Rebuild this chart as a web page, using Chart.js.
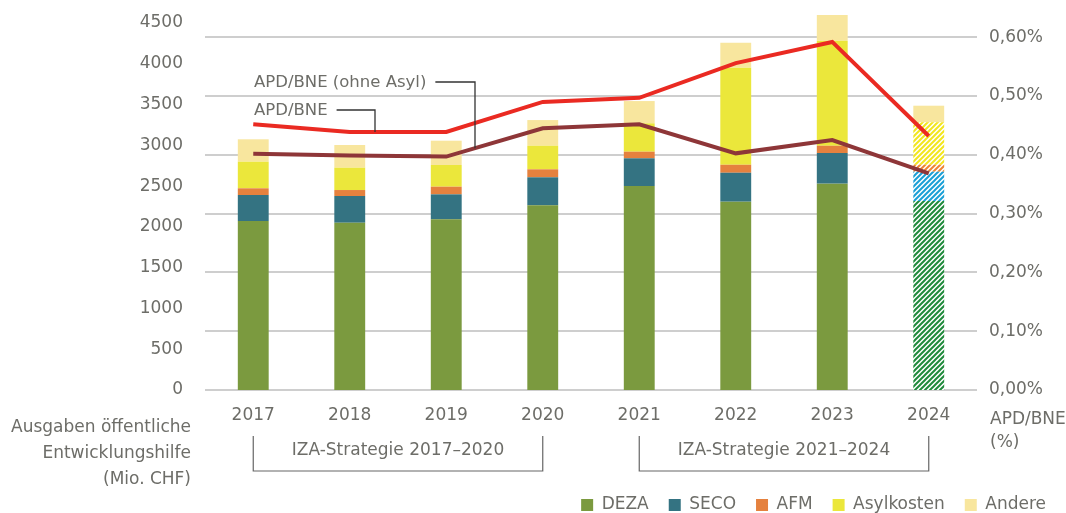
<!DOCTYPE html>
<html lang="de">
<head>
<meta charset="utf-8" />
<title>Öffentliche Entwicklungshilfe der Schweiz</title>
<style>
  * { margin: 0; padding: 0; }
  body { background: #fff; }
  .chartBox { width: 1066px; height: 513px; }
</style>
</head>
<body>
<div class="chartBox"><canvas id="myChart"></canvas></div>
<script src="https://cdn.jsdelivr.net/npm/chart.js"></script>
<script>
// data (Mio. CHF)
const years = ['2017', '2018', '2019', '2020', '2021', '2022', '2023', '2024'];
const deza = [2072, 2051, 2093, 2265, 2501, 2309, 2530, 2317];
const seco = [319, 328, 306, 343, 340, 355, 376, 360];
const afm = [82, 73, 94, 98, 81, 98, 89, 85];
const asyl = [326, 274, 266, 289, 348, 1190, 1288, 520];
const andere = [275, 278, 298, 315, 273, 306, 315, 204];
// APD/BNE in %
const apdBne = [0.452, 0.439, 0.439, 0.490, 0.497, 0.556, 0.592, 0.432];
const apdOhneAsyl = [0.402, 0.399, 0.397, 0.445, 0.452, 0.4025, 0.425, 0.3685];
// tick labels
const leftTicks = [0, 500, 1000, 1500, 2000, 2500, 3000, 3500, 4000, 4500];
const rightTicks = [0, 0.1, 0.2, 0.3, 0.4, 0.5, 0.6];

const FONT = 'DejaVu Sans';
const textColor = '#6d6d68';

// hatched fill for the 2024 (budget) bar
function hatch(color) {
  const c = document.createElement('canvas');
  c.width = 5; c.height = 5;
  const g = c.getContext('2d');
  g.fillStyle = '#fff';
  g.fillRect(0, 0, 5, 5);
  g.strokeStyle = color;
  g.lineWidth = 2;
  g.beginPath();
  g.moveTo(-1, 6); g.lineTo(6, -1);
  g.moveTo(-3.5, 3.5); g.lineTo(3.5, -3.5);
  g.moveTo(1.5, 8.5); g.lineTo(8.5, 1.5);
  g.stroke();
  return g.createPattern(c, 'repeat');
}
const colorsFor = (solid, last) => years.map((y, i) => (i === years.length - 1 ? last : solid));

const barSets = [
  { label: 'DEZA', data: deza, color: '#7b9a3f', last: hatch('#1f8a3b') },
  { label: 'SECO', data: seco, color: '#347382', last: hatch('#1a9fd6') },
  { label: 'AFM', data: afm, color: '#e5813e', last: hatch('#ee8432') },
  { label: 'Asylkosten', data: asyl, color: '#ebe73b', last: hatch('#f2e61f') },
  { label: 'Andere', data: andere, color: '#f8e69e', last: '#f8e69e' },
];

const datasets = [
  {
    type: 'line', label: 'APD/BNE', data: apdBne, yAxisID: 'y1', order: 0,
    borderColor: '#ea2a22', borderWidth: 4, pointRadius: 0, tension: 0,
  },
  {
    type: 'line', label: 'APD/BNE (ohne Asyl)', data: apdOhneAsyl, yAxisID: 'y1', order: 0,
    borderColor: '#8e3638', borderWidth: 4, pointRadius: 0, tension: 0,
  },
];
barSets.forEach((b) => {
  datasets.push({
    type: 'bar', label: b.label, data: b.data, yAxisID: 'y', order: 1,
    backgroundColor: colorsFor(b.color, b.last), legendColor: b.color,
    borderWidth: 0, barPercentage: 0.32, categoryPercentage: 1,
  });
});

// value of a line at a given x pixel (for the leader lines)
function lineAt(chart, data, px) {
  const x = chart.scales.x;
  for (let i = 0; i < data.length - 1; i++) {
    const a = x.getPixelForValue(i), b = x.getPixelForValue(i + 1);
    if (px >= a && px <= b) return data[i] + (data[i + 1] - data[i]) * (px - a) / (b - a);
  }
  return data[data.length - 1];
}

const annotations = {
  id: 'annotations',
  afterDraw(chart) {
    const { ctx, scales: { x, y1 } } = chart;
    ctx.save();
    ctx.fillStyle = textColor;
    ctx.textBaseline = 'middle';

    // line labels with leaders
    ctx.font = '16.5px "' + FONT + '"';
    ctx.textAlign = 'left';
    const labels = [
      { text: 'APD/BNE (ohne Asyl)', y: 83, toX: 475, data: apdOhneAsyl },
      { text: 'APD/BNE', y: 111, toX: 375, data: apdBne },
    ];
    ctx.strokeStyle = '#333';
    ctx.lineWidth = 1.3;
    labels.forEach((l) => {
      ctx.fillText(l.text, 254, l.y);
      const start = 254 + ctx.measureText(l.text).width + 9;
      const endY = y1.getPixelForValue(lineAt(chart, l.data, l.toX));
      ctx.beginPath();
      ctx.moveTo(start, l.y - 1);
      ctx.lineTo(l.toX, l.y - 1);
      ctx.lineTo(l.toX, endY);
      ctx.stroke();
    });

    // strategy brackets
    ctx.font = '17px "' + FONT + '"';
    ctx.textAlign = 'center';
    ctx.strokeStyle = '#666';
    ctx.lineWidth = 1.2;
    [[0, 3, 'IZA-Strategie 2017–2020'], [4, 7, 'IZA-Strategie 2021–2024']].forEach(([a, b, t]) => {
      const xa = x.getPixelForValue(a), xb = x.getPixelForValue(b);
      ctx.beginPath();
      ctx.moveTo(xa, 436);
      ctx.lineTo(xa, 471);
      ctx.lineTo(xb, 471);
      ctx.lineTo(xb, 436);
      ctx.stroke();
      ctx.fillText(t, (xa + xb) / 2, 451);
    });

    // axis titles
    ctx.textAlign = 'right';
    ['Ausgaben öffentliche', 'Entwicklungshilfe', '(Mio. CHF)'].forEach((t, i) => {
      ctx.fillText(t, 191, 428 + i * 26);
    });
    ctx.textAlign = 'left';
    ctx.fillText('APD/BNE', 990, 420);
    ctx.fillText('(%)', 990, 443);
    ctx.restore();
  },
};

// fixed axis sizes so the plot area sits where it does in the original
const fitY = (w) => (s) => { s.width = w; s.paddingTop = 0; s.paddingBottom = 0; };

const config = {
  data: { labels: years, datasets },
  options: {
    responsive: true,
    maintainAspectRatio: false,
    animation: false,
    devicePixelRatio: 1,
    layout: { padding: { top: 12, left: 0, right: 0, bottom: 0 } },
    font: { family: FONT },
    scales: {
      x: {
        stacked: true,
        grid: { display: false },
        border: { display: false },
        ticks: { color: textColor, font: { family: FONT, size: 17 }, padding: 7 },
        afterFit: (s) => { s.height = 86.5; },
      },
      y: {
        position: 'left',
        stacked: true,
        min: 0,
        max: 4635,
        grid: { display: false },
        border: { display: false },
        ticks: {
          color: textColor, font: { family: FONT, size: 17 }, padding: 14,
          callback: (v) => String(v),
        },
        afterBuildTicks: (s) => { s.ticks = leftTicks.map((v) => ({ value: v })); },
        afterFit: fitY(205),
      },
      y1: {
        position: 'right',
        min: 0,
        max: 0.6429,
        grid: { color: '#cecece', lineWidth: 2, drawTicks: false },
        border: { display: false },
        ticks: {
          color: textColor, font: { family: FONT, size: 17 }, padding: 12,
          callback: (v) => v.toFixed(2).replace('.', ',') + '%',
        },
        afterBuildTicks: (s) => { s.ticks = rightTicks.map((v) => ({ value: v })); },
        afterFit: fitY(89),
      },
    },
    plugins: {
      tooltip: { enabled: false },
      legend: {
        position: 'bottom',
        align: 'end',
        maxHeight: 36.5,
        labels: {
          boxWidth: 12,
          boxHeight: 12,
          padding: 20,
          color: textColor,
          font: { family: FONT, size: 17 },
          generateLabels: (chart) =>
            chart.data.datasets
              .map((d, i) => ({ d, i }))
              .filter(({ d }) => d.type === 'bar')
              .map(({ d, i }) => ({
                text: d.label,
                fillStyle: d.legendColor,
                strokeStyle: d.legendColor,
                lineWidth: 0,
                fontColor: textColor,
                datasetIndex: i,
              })),
        },
      },
    },
  },
  plugins: [annotations],
};

const myChart = new Chart(document.getElementById('myChart'), config);
</script>
</body>
</html>
